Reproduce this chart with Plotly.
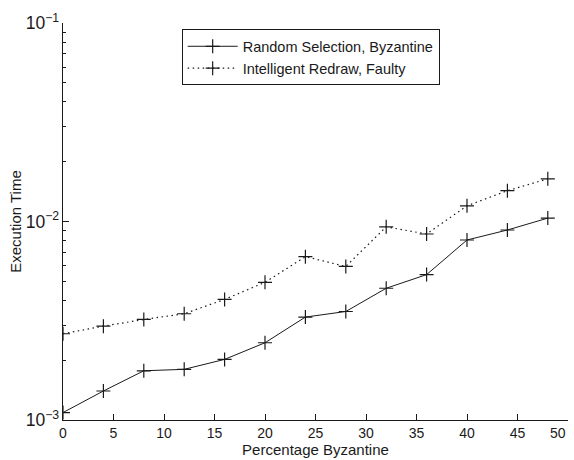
import plotly.graph_objects as go

# Percentage of Byzantine nodes
pct_byzantine = [0, 4, 8, 12, 16, 20, 24, 28, 32, 36, 40, 44, 48]

# Execution time (s) for each strategy
random_selection_byz = [1.09e-3, 1.40e-3, 1.77e-3, 1.80e-3, 2.02e-3, 2.45e-3, 3.30e-3,
                        3.52e-3, 4.61e-3, 5.40e-3, 8.07e-3, 9.06e-3, 1.04e-2]
intelligent_redraw_faulty = [2.72e-3, 2.97e-3, 3.21e-3, 3.43e-3, 4.05e-3, 4.94e-3, 6.65e-3,
                             5.94e-3, 9.40e-3, 8.65e-3, 1.20e-2, 1.43e-2, 1.64e-2]

x_ticks = [0, 5, 10, 15, 20, 25, 30, 35, 40, 45, 50]
# the last label is drawn separately, right-aligned to its tick
x_ticktext = [str(v) for v in x_ticks[:-1]] + [""]

FONT = "Liberation Sans, Arial, sans-serif"
INK = "#1a1a1a"

fig = go.Figure()

fig.add_trace(go.Scatter(
    x=pct_byzantine, y=random_selection_byz,
    mode="lines+markers", name="Random Selection, Byzantine",
    line=dict(color=INK, width=1, dash="solid"),
    marker=dict(symbol="cross-thin", size=10, line=dict(color=INK, width=1.2)),
))
fig.add_trace(go.Scatter(
    x=pct_byzantine, y=intelligent_redraw_faulty,
    mode="lines+markers", name="Intelligent Redraw, Faulty",
    line=dict(color=INK, width=1.2, dash="1.5px,3.5px"),
    marker=dict(symbol="cross-thin", size=10, line=dict(color=INK, width=1.2)),
))

fig.add_annotation(
    x=x_ticks[-1], xref="x", y=0, yref="paper",
    text=str(x_ticks[-1]), showarrow=False,
    xanchor="right", yanchor="top", yshift=-3,
    font=dict(family=FONT, size=14, color=INK),
)

fig.update_layout(
    width=574, height=460,
    margin=dict(l=63, r=6, t=23, b=40, autoexpand=False),
    paper_bgcolor="white", plot_bgcolor="white",
    font=dict(family=FONT, size=14, color=INK),
    showlegend=True,
    legend=dict(
        x=0.235, y=0.984, xanchor="left", yanchor="top",
        bgcolor="white", bordercolor=INK, borderwidth=1,
        font=dict(family=FONT, size=14.5, color=INK),
        itemwidth=50, tracegroupgap=0,
    ),
    xaxis=dict(
        range=[0, 50], tickvals=x_ticks, ticktext=x_ticktext,
        automargin=False,
        showline=True, linecolor=INK, linewidth=1,
        ticks="inside", ticklen=6, tickcolor=INK,
        showgrid=False, zeroline=False, mirror=False,
        title=dict(text="Percentage Byzantine", standoff=3,
                   font=dict(family=FONT, size=15, color=INK)),
    ),
    yaxis=dict(
        type="log", range=[-3, -1], dtick=1, exponentformat="power",
        automargin=False,
        showline=True, linecolor=INK, linewidth=1,
        ticks="inside", ticklen=6, tickcolor=INK,
        minor=dict(ticks="inside", ticklen=3, tickcolor=INK, dtick="D1", showgrid=False),
        showgrid=False, zeroline=False, mirror=False,
        title=dict(text="Execution Time", standoff=0,
                   font=dict(family=FONT, size=15, color=INK)),
    ),
)

fig.write_html("out.html")
